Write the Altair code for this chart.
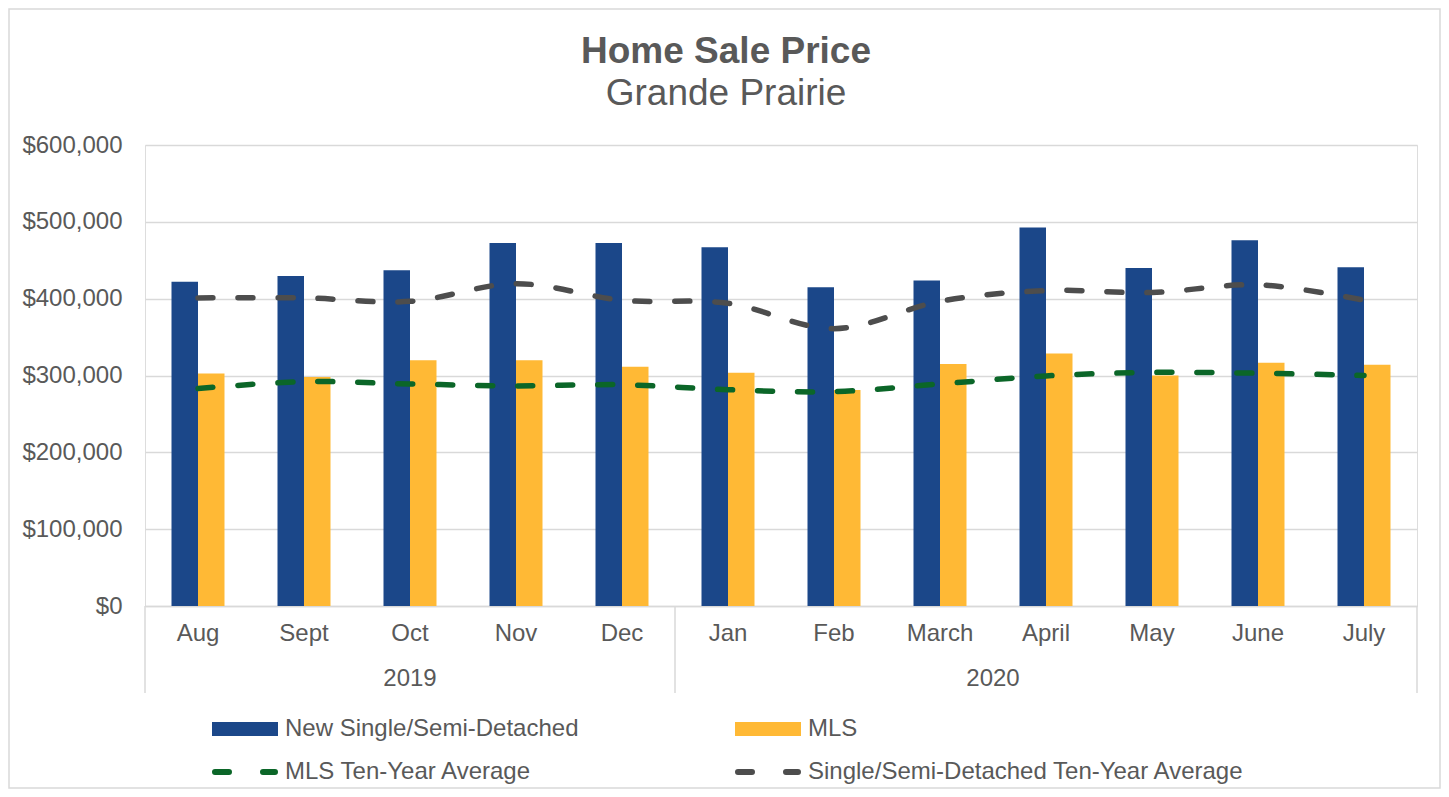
import altair as alt
import pandas as pd

months = ["Aug", "Sept", "Oct", "Nov", "Dec", "Jan", "Feb", "March", "April", "May", "June", "July"]
new_single = [422000, 429500, 437000, 472500, 472500, 467000, 415000, 423500, 492500, 440000, 476000, 441000]
mls = [302500, 298000, 320000, 320000, 311500, 303500, 281000, 315000, 328500, 300000, 316500, 314000]
single_avg = [401000, 401000, 396500, 419500, 398000, 394000, 361000, 396500, 410500, 408000, 418000, 398000]
mls_avg = [283000, 292000, 289000, 286500, 288000, 281500, 279000, 289000, 299500, 304000, 303000, 300000]
years = ["2019", "2020"]
year_first = ["Aug", "Jan"]

bar_series = ["New Single/Semi-Detached", "MLS"]
line_series = ["MLS Ten-Year Average", "Single/Semi-Detached Ten-Year Average"]

BLUE = "#1B4789"
YELLOW = "#FFB935"
GREEN = "#0B6628"
GRAY = "#4D4D4D"
TEXT = "#595959"
GRID = "#D9D9D9"
FONT = "Liberation Sans"

bars_df = pd.DataFrame({
    "month": months * 2,
    "series": [bar_series[0]] * 12 + [bar_series[1]] * 12,
    "value": new_single + mls,
})
lines_df = pd.DataFrame({
    "month": months * 2,
    "series": [line_series[0]] * 12 + [line_series[1]] * 12,
    "value": mls_avg + single_avg,
})

W, H = 1272, 461

xscale = alt.Scale(domain=months, paddingInner=0, paddingOuter=0)
yscale = alt.Scale(domain=[0, 600000])

bars = alt.Chart(bars_df).mark_bar().encode(
    x=alt.X("month:N", scale=xscale, sort=months,
            axis=alt.Axis(title=None, labelAngle=0, labelFontSize=24, labelColor=TEXT,
                          labelFont=FONT, ticks=False, labelPadding=15, grid=False,
                          domainColor=GRID, domainWidth=1.5)),
    xOffset=alt.XOffset("series:N", sort=bar_series,
                        scale=alt.Scale(domain=bar_series, paddingInner=0, paddingOuter=1)),
    y=alt.Y("value:Q", scale=yscale,
            axis=alt.Axis(title=None, format="$,.0f", values=[0, 100000, 200000, 300000, 400000, 500000, 600000],
                          labelFontSize=24, labelColor=TEXT, labelFont=FONT, ticks=False,
                          labelPadding=23, domain=False, gridColor=GRID, gridWidth=1.5)),
    color=alt.Color("series:N", scale=alt.Scale(domain=bar_series, range=[BLUE, YELLOW]), legend=None),
)

lines = alt.Chart(lines_df).mark_line(
    strokeWidth=5.5, strokeCap="round", strokeDash=[15, 25], interpolate="catmull-rom"
).encode(
    x=alt.X("month:N", scale=xscale, sort=months),
    y=alt.Y("value:Q", scale=yscale),
    detail="series:N",
    stroke=alt.Stroke("series:N", scale=alt.Scale(domain=line_series, range=[GREEN, GRAY]), legend=None),
)

# category separators below the axis
sep_df = pd.DataFrame({"month": year_first})
seps = alt.Chart(sep_df).mark_rule(color=GRID, strokeWidth=1.5).encode(
    x=alt.X("month:N", scale=xscale, sort=months, bandPosition=0),
    y=alt.value(H), y2=alt.value(H + 87),
)
sep_end = alt.Chart(pd.DataFrame({"month": [months[-1]]})).mark_rule(color=GRID, strokeWidth=1.5).encode(
    x=alt.X("month:N", scale=xscale, sort=months, bandPosition=1),
    y=alt.value(H), y2=alt.value(H + 87),
)

# year labels
y2019 = alt.Chart(pd.DataFrame({"month": ["Oct"], "year": [years[0]]})).mark_text(
    fontSize=24, font=FONT, color=TEXT, baseline="middle"
).encode(x=alt.X("month:N", scale=xscale, sort=months, bandPosition=0.5), y=alt.value(H + 73), text="year:N")
y2020 = alt.Chart(pd.DataFrame({"month": ["March"], "year": [years[1]]})).mark_text(
    fontSize=24, font=FONT, color=TEXT, baseline="middle"
).encode(x=alt.X("month:N", scale=xscale, sort=months, bandPosition=1), y=alt.value(H + 73), text="year:N")

# custom legend
one = pd.DataFrame({"a": [0]})
leg = []
row1, row2 = H + 123, H + 166
c1, c2 = 67, 590
for cx, label, color in [(c1, bar_series[0], BLUE), (c2, bar_series[1], YELLOW)]:
    leg.append(alt.Chart(one).mark_rect(color=color).encode(
        x=alt.value(cx), x2=alt.value(cx + 66), y=alt.value(row1 - 7), y2=alt.value(row1 + 7)))
    leg.append(alt.Chart(one).mark_text(text=label, fontSize=24, font=FONT, color=TEXT,
                                        align="left", baseline="middle").encode(
        x=alt.value(cx + 73), y=alt.value(row1)))
for cx, label, color in [(c1, line_series[0], GREEN), (c2, line_series[1], GRAY)]:
    leg.append(alt.Chart(one).mark_rule(color=color, strokeWidth=6, strokeCap="round",
                                        strokeDash=[14, 34]).encode(
        x=alt.value(cx + 3), x2=alt.value(cx + 63), y=alt.value(row2)))
    leg.append(alt.Chart(one).mark_text(text=label, fontSize=24, font=FONT, color=TEXT,
                                        align="left", baseline="middle").encode(
        x=alt.value(cx + 73), y=alt.value(row2)))

border = alt.Chart(one).mark_rect(fillOpacity=0, stroke=GRID, strokeWidth=1.5).encode(
    x=alt.value(-136), x2=alt.value(1295), y=alt.value(-136), y2=alt.value(643),
)

chart = alt.layer(border, bars, lines, seps, sep_end, y2019, y2020, *leg).properties(
    width=W, height=H,
    autosize=alt.AutoSizeParams(type="none"),
    padding={"left": 137, "top": 137, "right": 24, "bottom": 183},
    title=alt.TitleParams(
        "Home Sale Price", subtitle="Grande Prairie",
        fontSize=37, subtitleFontSize=37, font=FONT, subtitleFont=FONT,
        fontWeight="bold", color=TEXT, subtitleColor=TEXT,
        anchor="middle", dx=-55, offset=-105, subtitlePadding=5,
    ),
).configure_view(
    strokeWidth=0, stroke=None
).configure_axisY(domain=False).configure_axisX(grid=False).configure(background="white")

chart.save("out.html", embed_options={"renderer": "svg", "actions": False})
